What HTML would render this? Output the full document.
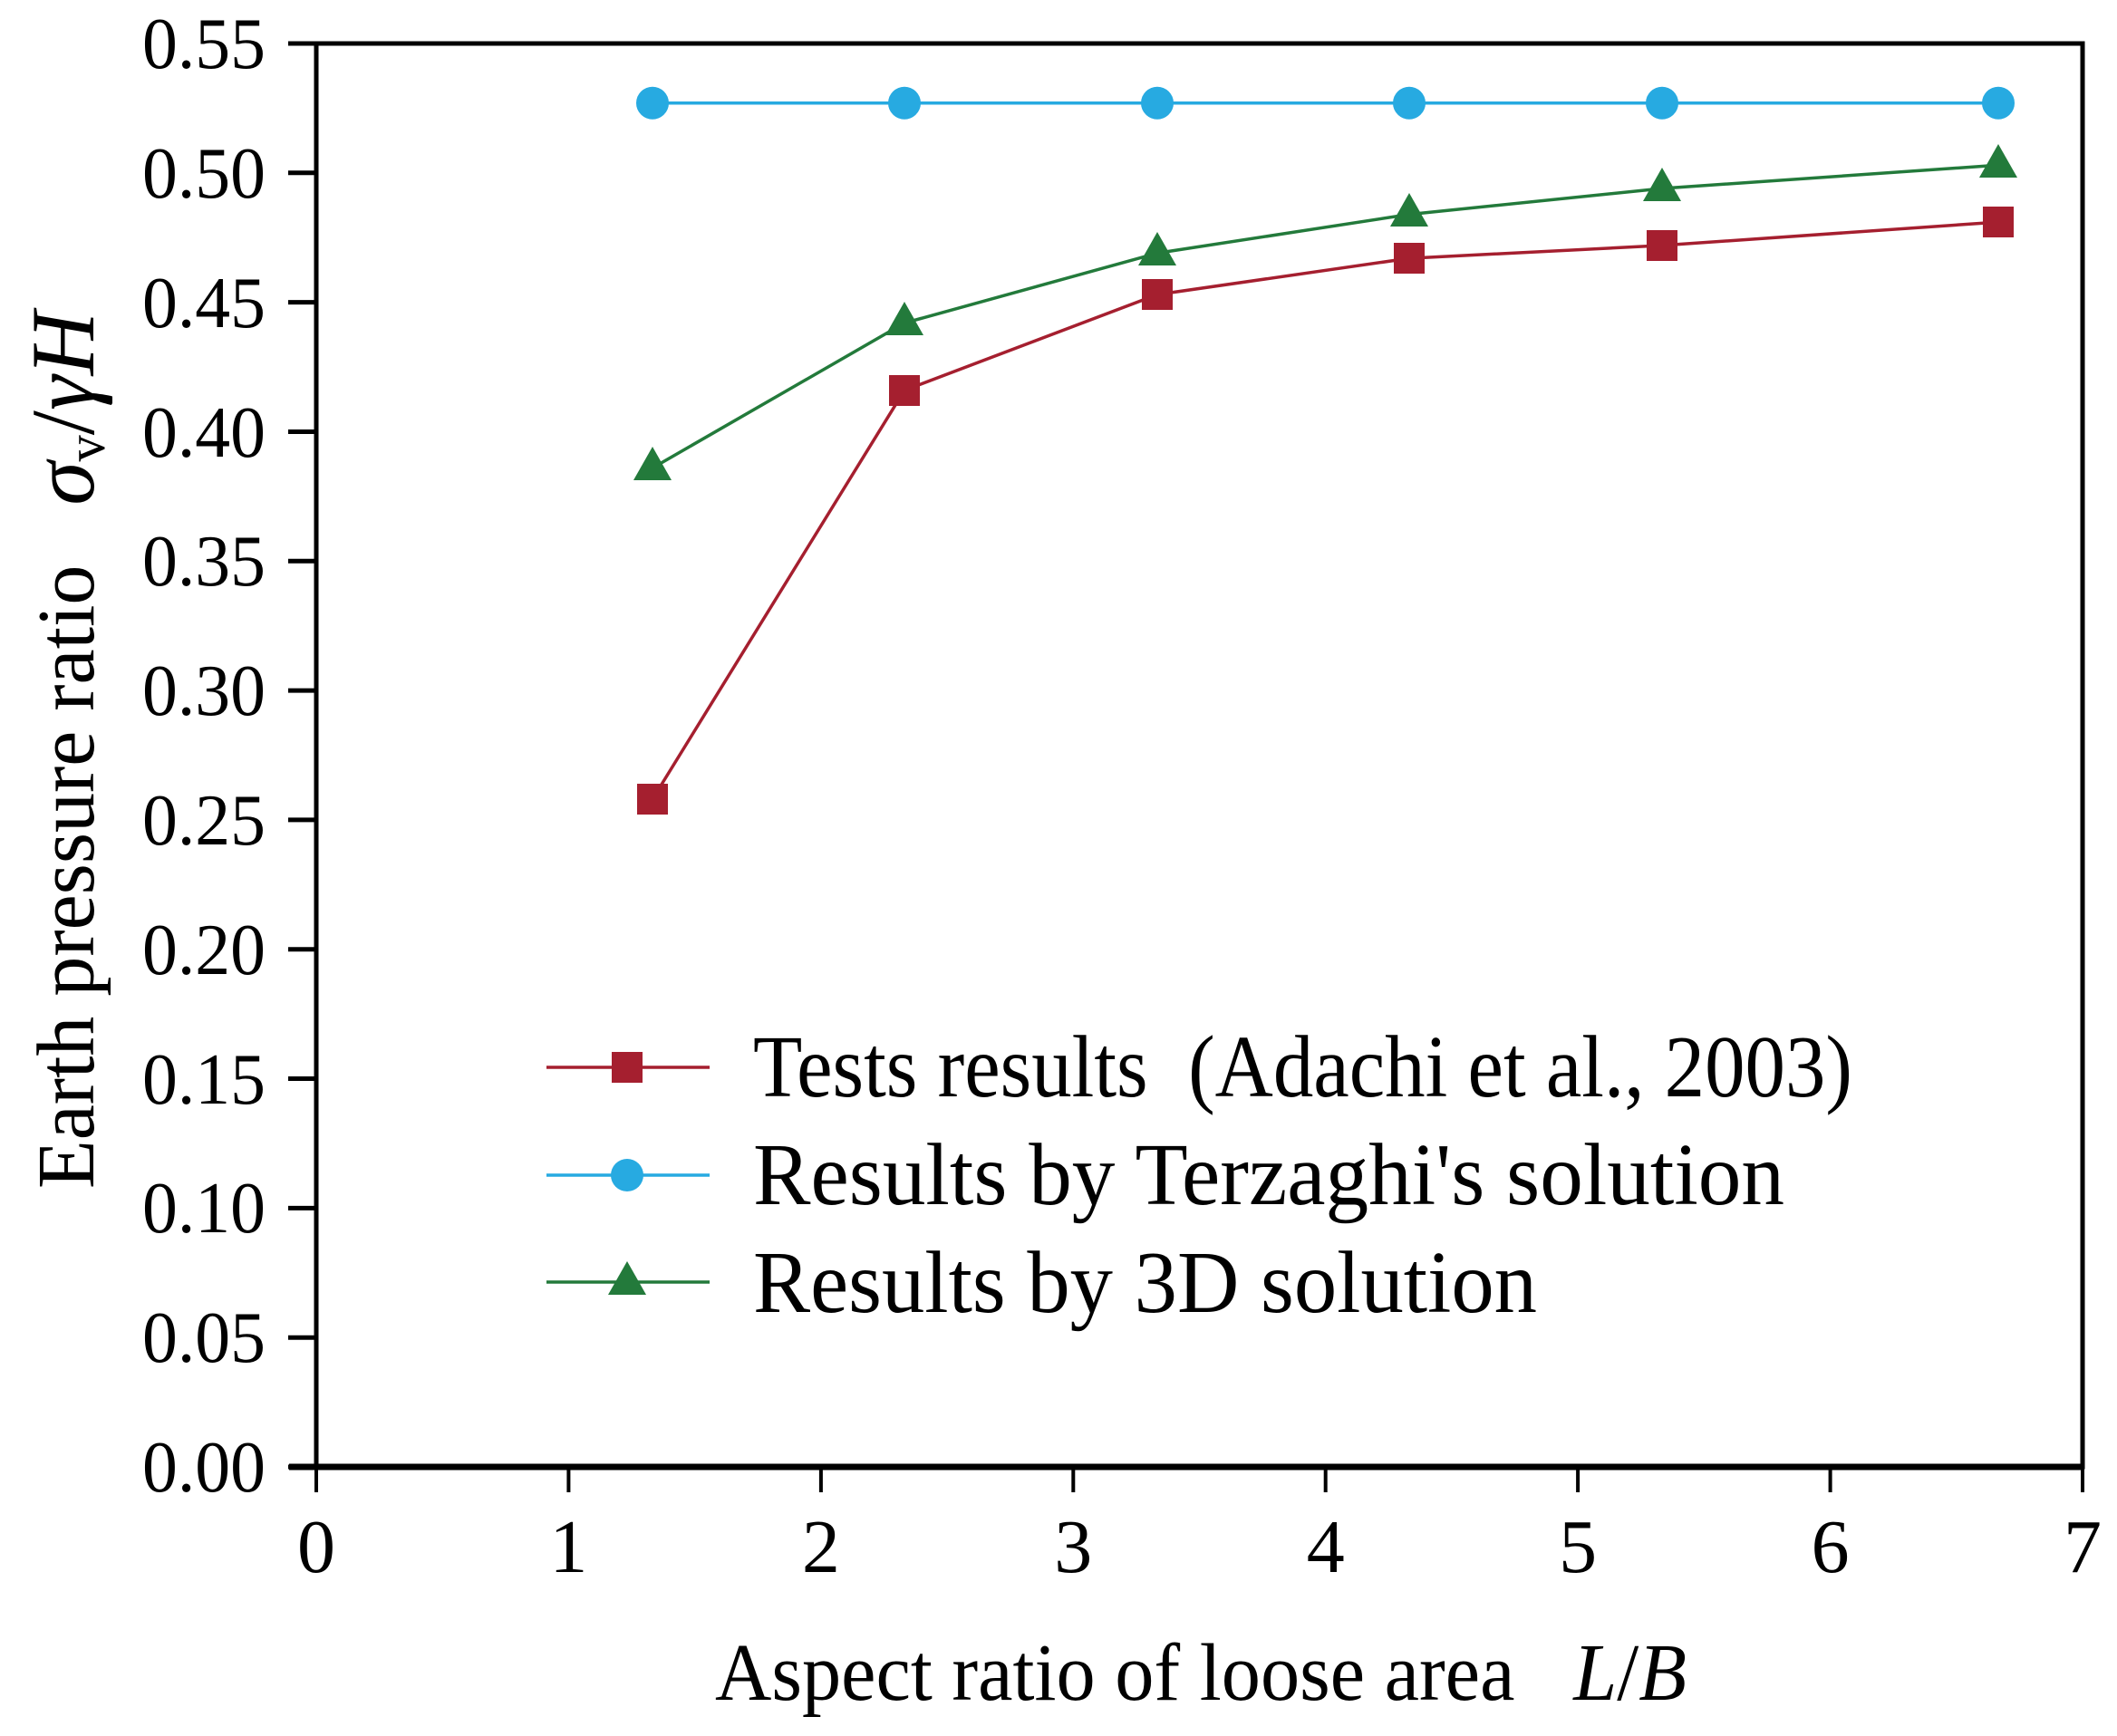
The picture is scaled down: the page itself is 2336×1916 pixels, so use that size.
<!DOCTYPE html>
<html><head><meta charset="utf-8"><style>html,body{margin:0;padding:0;background:#fff}svg{display:block}text{white-space:pre}</style></head>
<body>
<svg width="2336" height="1916" viewBox="0 0 2336 1916" xmlns="http://www.w3.org/2000/svg" font-family="'Liberation Serif', serif">
<rect width="2336" height="1916" fill="#fff"/>
<rect x="349" y="48" width="1949" height="1571" fill="none" stroke="#000" stroke-width="5"/>
<line x1="319" y1="1619" x2="2300" y2="1619" stroke="#000" stroke-width="7"/>
<g stroke="#000" stroke-width="5">
<line x1="318" y1="48" x2="349" y2="48"/><line x1="318" y1="190.8" x2="349" y2="190.8"/><line x1="318" y1="333.6" x2="349" y2="333.6"/><line x1="318" y1="476.5" x2="349" y2="476.5"/><line x1="318" y1="619.3" x2="349" y2="619.3"/><line x1="318" y1="762.1" x2="349" y2="762.1"/><line x1="318" y1="904.9" x2="349" y2="904.9"/><line x1="318" y1="1047.7" x2="349" y2="1047.7"/><line x1="318" y1="1190.5" x2="349" y2="1190.5"/><line x1="318" y1="1333.4" x2="349" y2="1333.4"/><line x1="318" y1="1476.2" x2="349" y2="1476.2"/><line x1="318" y1="1619" x2="349" y2="1619"/>
</g>
<g stroke="#000" stroke-width="4">
<line x1="349" y1="1619" x2="349" y2="1647"/><line x1="627.4" y1="1619" x2="627.4" y2="1647"/><line x1="905.9" y1="1619" x2="905.9" y2="1647"/><line x1="1184.3" y1="1619" x2="1184.3" y2="1647"/><line x1="1462.7" y1="1619" x2="1462.7" y2="1647"/><line x1="1741.1" y1="1619" x2="1741.1" y2="1647"/><line x1="2019.6" y1="1619" x2="2019.6" y2="1647"/><line x1="2298" y1="1619" x2="2298" y2="1647"/>
</g>
<g font-size="80" text-anchor="end">
<text x="293" y="75" textLength="136" lengthAdjust="spacingAndGlyphs">0.55</text>
<text x="293" y="218" textLength="136" lengthAdjust="spacingAndGlyphs">0.50</text>
<text x="293" y="361" textLength="136" lengthAdjust="spacingAndGlyphs">0.45</text>
<text x="293" y="504" textLength="136" lengthAdjust="spacingAndGlyphs">0.40</text>
<text x="293" y="646" textLength="136" lengthAdjust="spacingAndGlyphs">0.35</text>
<text x="293" y="789" textLength="136" lengthAdjust="spacingAndGlyphs">0.30</text>
<text x="293" y="932" textLength="136" lengthAdjust="spacingAndGlyphs">0.25</text>
<text x="293" y="1075" textLength="136" lengthAdjust="spacingAndGlyphs">0.20</text>
<text x="293" y="1218" textLength="136" lengthAdjust="spacingAndGlyphs">0.15</text>
<text x="293" y="1360" textLength="136" lengthAdjust="spacingAndGlyphs">0.10</text>
<text x="293" y="1503" textLength="136" lengthAdjust="spacingAndGlyphs">0.05</text>
<text x="293" y="1646" textLength="136" lengthAdjust="spacingAndGlyphs">0.00</text>
</g>
<g font-size="84" text-anchor="middle">
<text x="349" y="1735">0</text><text x="627.4" y="1735">1</text><text x="905.9" y="1735">2</text><text x="1184.3" y="1735">3</text><text x="1462.7" y="1735">4</text><text x="1741.1" y="1735">5</text><text x="2019.6" y="1735">6</text><text x="2298" y="1735">7</text>
</g>
<text x="789" y="1876" font-size="90" textLength="1072" lengthAdjust="spacingAndGlyphs">Aspect ratio of loose area   <tspan font-style="italic">L</tspan>/<tspan font-style="italic">B</tspan></text>
<text transform="translate(103,1312) rotate(-90)" font-size="90" textLength="968" lengthAdjust="spacingAndGlyphs">Earth pressure ratio   <tspan font-style="italic" font-size="100">σ</tspan><tspan font-size="60" dy="12">v</tspan><tspan dy="-12" font-size="100">/</tspan><tspan font-style="italic" font-size="100">γH</tspan></text>
<polyline fill="none" stroke="#27aae1" stroke-width="3.5" points="720,113.7 998,113.7 1277,113.7 1555,113.7 1834,113.7 2205,113.7"/>
<g fill="#27aae1"><circle cx="720" cy="113.7" r="18"/><circle cx="998" cy="113.7" r="18"/><circle cx="1277" cy="113.7" r="18"/><circle cx="1555" cy="113.7" r="18"/><circle cx="1834" cy="113.7" r="18"/><circle cx="2205" cy="113.7" r="18"/></g>
<polyline fill="none" stroke="#237a3b" stroke-width="3.5" points="720,516.5 998,356.5 1277,279.4 1555,236.6 1834,208 2205,182.3"/>
<g fill="#237a3b">
<polygon points="720,493 699,530 741,530"/><polygon points="998,333 977,370 1019,370"/><polygon points="1277,256 1256,293 1298,293"/><polygon points="1555,213 1534,250 1576,250"/><polygon points="1834,185 1813,222 1855,222"/><polygon points="2205,159 2184,196 2226,196"/>
</g>
<polyline fill="none" stroke="#a51f2f" stroke-width="3.5" points="720,882 998,430.8 1277,325.1 1555,285.1 1834,270.9 2205,245.1"/>
<g fill="#a51f2f">
<rect x="703" y="865" width="34" height="34"/><rect x="981" y="414" width="34" height="34"/><rect x="1260" y="308" width="34" height="34"/><rect x="1538" y="268" width="34" height="34"/><rect x="1817" y="254" width="34" height="34"/><rect x="2188" y="228" width="34" height="34"/>
</g>
<line x1="603" y1="1178" x2="783" y2="1178" stroke="#a51f2f" stroke-width="3.5"/>
<rect x="675" y="1161" width="34" height="34" fill="#a51f2f"/>
<line x1="603" y1="1297" x2="783" y2="1297" stroke="#27aae1" stroke-width="3.5"/>
<circle cx="692" cy="1297" r="18" fill="#27aae1"/>
<line x1="603" y1="1415" x2="783" y2="1415" stroke="#237a3b" stroke-width="3.5"/>
<polygon points="692,1392 671,1429 713,1429" fill="#237a3b"/>
<g font-size="98">
<text x="831" y="1210" textLength="1213" lengthAdjust="spacingAndGlyphs">Tests results  (Adachi et al., 2003)</text>
<text x="831" y="1329" textLength="1138" lengthAdjust="spacingAndGlyphs">Results by Terzaghi's solution</text>
<text x="831" y="1448" textLength="865" lengthAdjust="spacingAndGlyphs">Results by 3D solution</text>
</g>
</svg>
</body></html>
